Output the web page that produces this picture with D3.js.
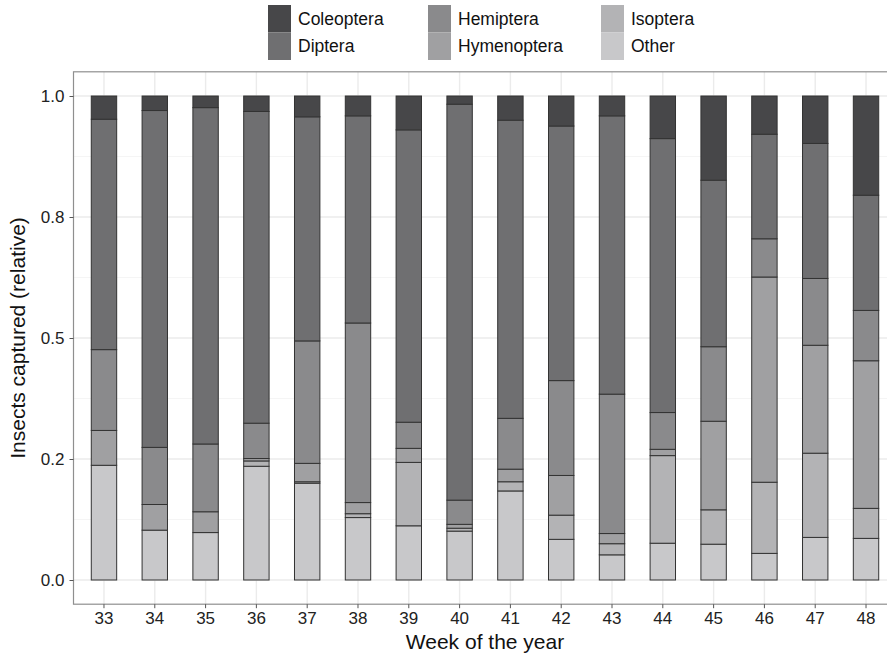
<!DOCTYPE html>
<html>
<head>
<meta charset="utf-8">
<script src="https://cdn.jsdelivr.net/npm/d3@7"></script>
<style>
  html, body { margin: 0; padding: 0; background: #ffffff; }
  svg { display: block; font-family: "Liberation Sans", Arial, Helvetica, sans-serif; }
</style>
</head>
<body>
<svg id="chart" width="887" height="657"></svg>
<script>
// ---- data (relative share of insects captured per week) ----
const weeks       = ["33","34","35","36","37","38","39","40","41","42","43","44","45","46","47","48"];
const coleoptera  = [0.048,0.030,0.024,0.032,0.043,0.041,0.070,0.017,0.050,0.062,0.041,0.088,0.174,0.079,0.098,0.205];
const diptera     = [0.476,0.696,0.695,0.644,0.463,0.428,0.604,0.818,0.616,0.526,0.575,0.566,0.344,0.216,0.279,0.238];
const hemiptera   = [0.167,0.118,0.140,0.073,0.253,0.371,0.054,0.050,0.105,0.196,0.288,0.076,0.154,0.079,0.138,0.104];
const hymenoptera = [0.072,0.053,0.043,0.005,0.038,0.023,0.029,0.008,0.026,0.082,0.021,0.013,0.183,0.424,0.223,0.305];
const isoptera    = [0.000,0.000,0.000,0.011,0.003,0.008,0.131,0.006,0.019,0.050,0.023,0.181,0.071,0.147,0.174,0.062];
const other       = [0.237,0.103,0.098,0.235,0.200,0.129,0.112,0.101,0.184,0.084,0.052,0.076,0.074,0.055,0.088,0.086];

const orders      = ["Coleoptera","Diptera","Hemiptera","Hymenoptera","Isoptera","Other"];
const yTickValues = [0, 0.25, 0.5, 0.75, 1];
const yTickLabels = ["0.0","0.2","0.5","0.8","1.0"];
const yMinor      = [0.125, 0.375, 0.625, 0.875];

// ---- build table ----
const seriesByName = {Coleoptera: coleoptera, Diptera: diptera, Hemiptera: hemiptera,
                      Hymenoptera: hymenoptera, Isoptera: isoptera, Other: other};
const table = weeks.map((w, i) => {
  const row = {week: w};
  orders.forEach(o => row[o] = seriesByName[o][i]);
  return row;
});

const colors = {Coleoptera:"#474749", Diptera:"#6f6f71", Hemiptera:"#8a8a8c",
                Hymenoptera:"#a0a0a2", Isoptera:"#b3b3b5", Other:"#c8c8ca"};

// ---- layout ----
const svg = d3.select("#chart");
const panel = {left: 73.5, right: 896.5, top: 71.8, bottom: 604.2};

const x = d3.scaleBand().domain(weeks)
  .range([panel.left, panel.right]).paddingInner(0.5).paddingOuter(0.35);
const y = d3.scaleLinear().domain([-0.05, 1.05]).range([panel.bottom, panel.top]);

// panel background & grid
const g = svg.append("g");
g.append("rect").attr("x", panel.left).attr("y", panel.top)
  .attr("width", panel.right - panel.left).attr("height", panel.bottom - panel.top)
  .attr("fill", "#ffffff");

g.selectAll(".minor").data(yMinor).join("line")
  .attr("x1", panel.left).attr("x2", panel.right)
  .attr("y1", d => y(d)).attr("y2", d => y(d))
  .attr("stroke", "#f2f2f2").attr("stroke-width", 0.8);
g.selectAll(".majory").data(yTickValues).join("line")
  .attr("x1", panel.left).attr("x2", panel.right)
  .attr("y1", d => y(d)).attr("y2", d => y(d))
  .attr("stroke", "#ebebeb").attr("stroke-width", 1.4);
g.selectAll(".majorx").data(weeks).join("line")
  .attr("x1", d => x(d) + x.bandwidth()/2).attr("x2", d => x(d) + x.bandwidth()/2)
  .attr("y1", panel.top).attr("y2", panel.bottom)
  .attr("stroke", "#ebebeb").attr("stroke-width", 1.4);

// ---- stacked bars ----
const stackKeys = ["Other","Isoptera","Hymenoptera","Hemiptera","Diptera","Coleoptera"];
const stacked = d3.stack().keys(stackKeys)(table);

const layers = svg.append("g").selectAll("g").data(stacked).join("g")
  .attr("fill", d => colors[d.key]);
layers.selectAll("rect")
  .data(d => d.filter(s => s[1] - s[0] > 0))
  .join("rect")
  .attr("x", d => x(d.data.week))
  .attr("width", x.bandwidth())
  .attr("y", d => y(d[1]))
  .attr("height", d => y(d[0]) - y(d[1]))
  .attr("stroke", "#333333")
  .attr("stroke-width", 1);

// panel border
svg.append("rect").attr("x", panel.left).attr("y", panel.top)
  .attr("width", panel.right - panel.left).attr("height", panel.bottom - panel.top)
  .attr("fill", "none").attr("stroke", "#8f8f8f").attr("stroke-width", 1.2);

// ---- axes ----
const yAxis = svg.append("g").attr("transform", `translate(${panel.left},0)`)
  .call(d3.axisLeft(y).tickValues(yTickValues)
        .tickFormat((d, i) => yTickLabels[i]).tickSize(4).tickPadding(5));
yAxis.select(".domain").remove();
yAxis.selectAll("line").attr("stroke", "#555555");
yAxis.selectAll("text").attr("font-size", 17).attr("fill", "#222222")
  .attr("font-family", "Liberation Sans, Arial, sans-serif");

const xAxis = svg.append("g").attr("transform", `translate(0,${panel.bottom})`)
  .call(d3.axisBottom(x).tickSize(4).tickPadding(4));
xAxis.select(".domain").remove();
xAxis.selectAll("line").attr("stroke", "#555555");
xAxis.selectAll("text").attr("font-size", 17).attr("fill", "#222222")
  .attr("font-family", "Liberation Sans, Arial, sans-serif");

// axis titles
svg.append("text").attr("x", (panel.left + panel.right) / 2).attr("y", 649)
  .attr("text-anchor", "middle").attr("font-size", 21).attr("fill", "#111111")
  .text("Week of the year");
svg.append("text")
  .attr("transform", `translate(25,${y(0.5)}) rotate(-90)`)
  .attr("text-anchor", "middle").attr("font-size", 21).attr("fill", "#111111")
  .text("Insects captured (relative)");

// ---- legend ----
const legendCols = [268, 428, 601];
const legendRows = [5, 32.5];
const keyW = 23, keyH = 27.5;
const legend = svg.append("g");
orders.forEach((o, i) => {
  const col = Math.floor(i / 2), row = i % 2;
  const lx = legendCols[col], ly = legendRows[row];
  legend.append("rect").attr("x", lx).attr("y", ly).attr("width", keyW).attr("height", keyH)
    .attr("fill", colors[o]);
  legend.append("text").attr("x", lx + keyW + 7).attr("y", ly + keyH / 2)
    .attr("dy", "0.35em").attr("font-size", 17.5).attr("fill", "#111111").text(o);
});
</script>
</body>
</html>
